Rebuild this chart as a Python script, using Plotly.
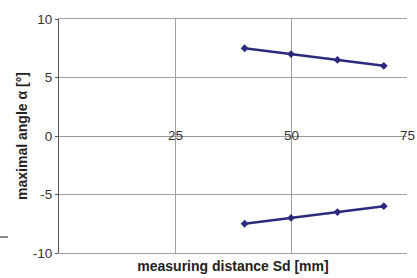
import plotly.graph_objects as go

x_vals = [40, 50, 60, 70]
upper_vals = [7.5, 7.0, 6.5, 6.0]
lower_vals = [-7.5, -7.0, -6.5, -6.0]
x_ticks = [25, 50, 75]
x_tick_text = ["25", "50", "75"]
y_ticks = [-10, -5, 0, 5, 10]
y_tick_text = ["-10", "-5", "0", "5", "10"]

line_color = "#2B2A7C"
grid_color = "#A0A0A0"
font_fam = "Liberation Sans, Arial, sans-serif"

fig = go.Figure()
for vals in (upper_vals, lower_vals):
    fig.add_trace(go.Scatter(
        x=x_vals, y=vals, mode="lines+markers",
        line=dict(color=line_color, width=2.5),
        marker=dict(symbol="diamond", size=6, color=line_color),
        showlegend=False, hoverinfo="skip"))

for xv, xt in zip(x_ticks, x_tick_text):
    fig.add_annotation(x=xv, y=0, xref="x", yref="y", text=xt, showarrow=False,
                       xanchor="center", yanchor="middle", yshift=1,
                       font=dict(family=font_fam, size=13.5, color="#333333"))

fig.add_shape(type="line", xref="paper", yref="paper", x0=-59/348, x1=-51/348,
              y0=(253-237)/234, y1=(253-237)/234,
              line=dict(color="#666666", width=1.5))

fig.update_layout(
    width=417, height=278,
    margin=dict(l=59, r=10, t=19, b=25, autoexpand=False),
    paper_bgcolor="white", plot_bgcolor="white",
    font=dict(family=font_fam, size=13, color="#333333"),
    xaxis=dict(range=[0, 75], tickvals=x_ticks, showticklabels=False,
               showgrid=True, gridcolor=grid_color, gridwidth=1,
               zeroline=False, showline=True, linecolor=grid_color, mirror=True,
               ticks="",
               title=dict(text="<b>measuring distance Sd [mm]</b>", standoff=8,
                          font=dict(size=14, color="#222222"))),
    yaxis=dict(range=[-10, 10], tickvals=y_ticks, ticktext=y_tick_text,
               showgrid=True, gridcolor=grid_color, gridwidth=1,
               zeroline=True, zerolinecolor="#999999", zerolinewidth=1,
               showline=True, linecolor="#555555", linewidth=1,
               ticks="outside", ticklen=3, tickcolor="#555555",
               tickfont=dict(size=13.5, color="#333333"),
               title=dict(text="<b>maximal angle α [°]</b>", standoff=1,
                          font=dict(size=14, color="#222222"))),
)

fig.write_html("out.html", config={"displayModeBar": False},
               post_script="document.body.style.margin='0';")
